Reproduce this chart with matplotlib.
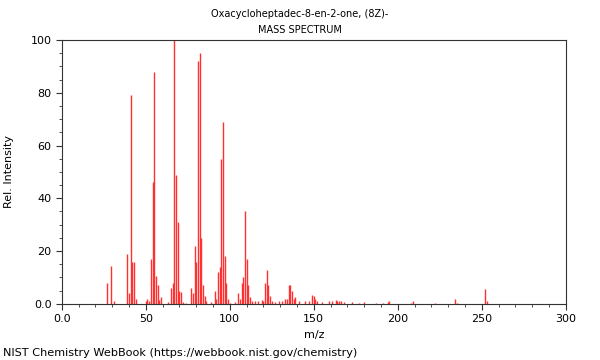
import numpy as np
import matplotlib.pyplot as plt
from matplotlib.ticker import MultipleLocator, FuncFormatter

# peak list (m/z, relative intensity)
mz = [27, 29, 31, 39, 40, 41, 42, 43, 44, 50, 51, 52, 53, 54, 55, 56, 57, 58, 59,
      63, 65, 66, 67, 68, 69, 70, 71, 72, 74, 77, 78, 79, 80, 81, 82, 83, 84, 85, 86,
      89, 91, 92, 93, 94, 95, 96, 97, 98, 99, 100, 103, 105, 106, 107, 108, 109, 110,
      111, 112, 113, 115, 117, 119, 120, 121, 122, 123, 124, 125, 127, 129, 131, 133,
      134, 135, 136, 137, 138, 139, 141, 145, 147, 149, 150, 151, 152, 155, 159, 161,
      163, 164, 165, 166, 168, 173, 177, 180, 187, 191, 194, 195, 208, 209, 222, 234,
      235, 252, 253]
intensity = [8, 14.5, 1, 19, 4, 79, 16, 16, 2, 1, 2, 1, 17, 46, 88, 10.5, 7, 1.5, 2.5,
             0.7, 6, 8, 100, 49, 31, 5, 4.5, 0.7, 0.5, 6, 4, 22, 16, 92, 95, 25, 7, 3, 1,
             0.7, 5, 2, 12, 14, 55, 69, 18, 8, 2, 0.5, 0.7, 4, 2, 8, 10, 35, 17,
             7, 2.5, 1, 1, 1, 1.5, 1, 8, 13, 7, 3, 1, 0.7, 1, 1, 2,
             2, 7, 7, 5, 2, 2.5, 1, 1, 1, 3.5, 3, 2, 1, 0.7, 1, 1,
             1.5, 1, 1, 1, 0.7, 0.7, 0.5, 0.7, 0.5, 0.5, 0.7, 1, 0.5, 1, 0.5, 2,
             0.5, 5.5, 1]

title_lines = ['Oxacycloheptadec-8-en-2-one, (8Z)-', 'MASS SPECTRUM']

fig = plt.figure(figsize=(6, 3.6), dpi=100)
ax = fig.add_axes([0.103, 0.156, 0.840, 0.733])

ax.vlines(mz, 0, intensity, color='#ff3030', linewidth=1.0)

ax.set_xlim(0, 300)
ax.set_ylim(0, 100)
ax.xaxis.set_major_locator(MultipleLocator(50))
ax.xaxis.set_minor_locator(MultipleLocator(10))
ax.yaxis.set_major_locator(MultipleLocator(20))
ax.yaxis.set_minor_locator(MultipleLocator(5))
fmt = FuncFormatter(lambda v, p: '0.0' if v == 0 else '%d' % v)
ax.xaxis.set_major_formatter(fmt)
ax.yaxis.set_major_formatter(fmt)
ax.tick_params(labelsize=8, length=4, width=0.8, color='#333333')
ax.tick_params(which='minor', length=2, width=0.6, color='#333333')
for s in ax.spines.values():
    s.set_linewidth(0.8)
    s.set_color('#333333')

ax.set_xlabel('m/z', fontsize=8)
ax.set_ylabel('Rel. Intensity', fontsize=8, labelpad=12)

fig.text(0.5, 0.961, title_lines[0], ha='center', va='center', fontsize=7)
fig.text(0.5, 0.917, title_lines[1], ha='center', va='center', fontsize=7)
fig.text(0.005, 0.02, 'NIST Chemistry WebBook (https://webbook.nist.gov/chemistry)',
         ha='left', va='center', fontsize=8.1)

fig.savefig('out.png', dpi=100)
